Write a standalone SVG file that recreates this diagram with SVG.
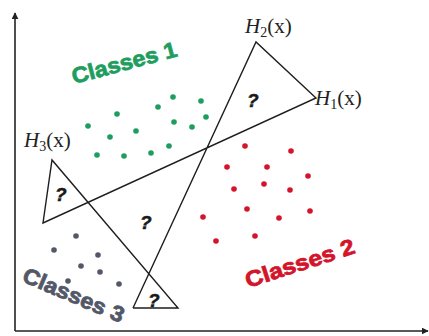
<svg xmlns="http://www.w3.org/2000/svg" width="429" height="336" viewBox="0 0 429 336">
<style>
.ln{stroke:#1e1e1e;stroke-width:1.4;fill:none;stroke-linejoin:miter}
.ax{stroke:#222;stroke-width:1.6;fill:none}
.h{font-family:"Liberation Serif",serif;font-size:21px;fill:#222}
.q{font-family:"Liberation Sans",Arial,sans-serif;font-size:19px;font-weight:bold;font-style:italic;fill:#1a1a1a;stroke:#1a1a1a;stroke-width:0.5}
.cl{font-family:"Liberation Sans",Arial,sans-serif;font-size:22px;font-weight:bold;stroke-width:0.8}
.g{fill:#1e9e5e;stroke:#1e9e5e}.r{fill:#d3142a;stroke:#d3142a}.k{fill:#525868;stroke:#525868}
circle{stroke:none}
</style>
<defs>
<marker id="arr" viewBox="0 0 10 10" refX="9" refY="5" markerWidth="7" markerHeight="7" markerUnits="userSpaceOnUse" orient="auto">
<path d="M0,0 L10,5 L0,10 z" fill="#222"/>
</marker>
</defs>
<g id="axes">
<line class="ax" x1="15" y1="331" x2="15" y2="13" marker-end="url(#arr)"/>
<line class="ax" x1="15" y1="331" x2="428" y2="331" marker-end="url(#arr)"/>
</g>
<g id="connectors">
<polyline class="ln" points="133,308 256,42 316,98 43,223 52,160 178,308 133,308"/>
</g>
<g id="h2"><text class="h" x="245" y="33"><tspan font-style="italic">H</tspan><tspan font-size="14" dy="4">2</tspan><tspan dy="-4">(x)</tspan></text></g>
<g id="h1"><text class="h" x="315" y="105"><tspan font-style="italic">H</tspan><tspan font-size="14" dy="4">1</tspan><tspan dy="-4">(x)</tspan></text></g>
<g id="h3"><text class="h" x="24" y="147"><tspan font-style="italic">H</tspan><tspan font-size="14" dy="4">3</tspan><tspan dy="-4">(x)</tspan></text></g>
<g id="questions">
<text class="q" x="247" y="107">?</text>
<text class="q" x="55" y="201">?</text>
<text class="q" x="140" y="229">?</text>
<text class="q" x="148" y="307">?</text>
</g>
<g id="class1">
<text class="cl g" transform="translate(74,84) rotate(-15)" textLength="108" lengthAdjust="spacingAndGlyphs">Classes 1</text>
<g class="g">
<circle cx="88" cy="126" r="2.8"/><circle cx="117" cy="114" r="2.8"/><circle cx="136" cy="131" r="2.8"/><circle cx="110" cy="137" r="2.8"/><circle cx="97" cy="155" r="2.8"/><circle cx="124" cy="156" r="2.8"/><circle cx="151" cy="153" r="2.8"/><circle cx="169" cy="146" r="2.8"/><circle cx="158" cy="107" r="2.8"/><circle cx="173" cy="97" r="2.8"/><circle cx="201" cy="101" r="2.8"/><circle cx="206" cy="117" r="2.8"/><circle cx="192" cy="127" r="2.8"/><circle cx="174" cy="122" r="2.8"/>
</g>
</g>
<g id="class2">
<text class="cl r" transform="translate(248,288) rotate(-18)" textLength="114" lengthAdjust="spacingAndGlyphs">Classes 2</text>
<g class="r">
<circle cx="245" cy="146" r="2.8"/><circle cx="291" cy="151" r="2.8"/><circle cx="227" cy="167" r="2.8"/><circle cx="267" cy="167" r="2.8"/><circle cx="308" cy="176" r="2.8"/><circle cx="234" cy="189" r="2.8"/><circle cx="264" cy="184" r="2.8"/><circle cx="290" cy="190" r="2.8"/><circle cx="247" cy="209" r="2.8"/><circle cx="279" cy="218" r="2.8"/><circle cx="310" cy="211" r="2.8"/><circle cx="216" cy="241" r="2.8"/><circle cx="255" cy="236" r="2.8"/><circle cx="203" cy="217" r="2.8"/>
</g>
</g>
<g id="class3">
<text class="cl k" transform="translate(21,281) rotate(23)" textLength="108" lengthAdjust="spacingAndGlyphs">Classes 3</text>
<g class="k">
<circle cx="76" cy="236" r="2.8"/><circle cx="54" cy="250" r="2.8"/><circle cx="98" cy="255" r="2.8"/><circle cx="81" cy="266" r="2.8"/><circle cx="100" cy="272" r="2.8"/><circle cx="68" cy="281" r="2.8"/><circle cx="119" cy="284" r="2.8"/>
</g>
</g>
</svg>
